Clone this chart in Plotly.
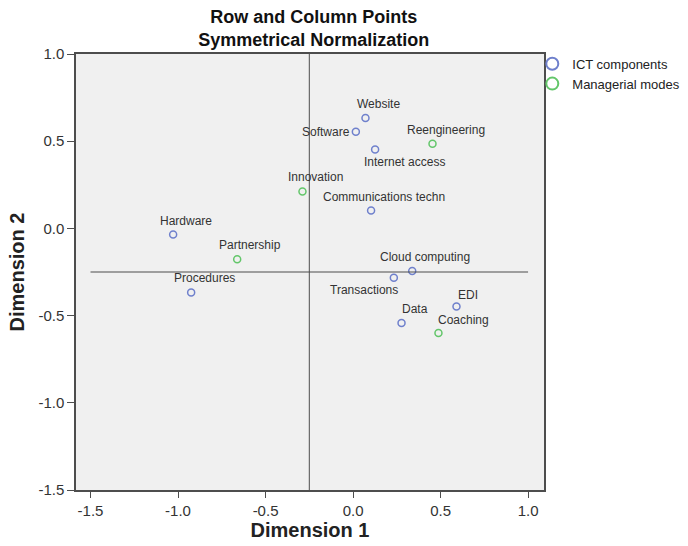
import plotly.graph_objects as go

# Correspondence analysis: row points (ICT components) and column points (managerial modes)
ict_labels = ["Website", "Software", "Internet access", "Communications techn", "Hardware",
              "Procedures", "Cloud computing", "Transactions", "EDI", "Data"]
ict_x = [0.071, 0.016, 0.126, 0.103, -1.028, -0.925, 0.338, 0.233, 0.591, 0.277]
ict_y = [0.633, 0.554, 0.452, 0.102, -0.035, -0.367, -0.244, -0.283, -0.448, -0.542]

mgr_labels = ["Reengineering", "Innovation", "Partnership", "Coaching"]
mgr_x = [0.454, -0.289, -0.662, 0.488]
mgr_y = [0.485, 0.212, -0.177, -0.600]

# shared tick positions and their printed labels (plain hyphen minus)
tick_vals = [-1.5, -1.0, -0.5, 0.0, 0.5, 1.0]
tick_text = ["-1.5", "-1.0", "-0.5", "0.0", "0.5", "1.0"]

# centroid reference lines
ref_x = -0.25
ref_y = -0.25

BLUE = "#6f80cc"
GREEN = "#63c66a"
FONT = "Liberation Sans, Arial, sans-serif"

# label offsets in pixels (dx, dy up); default is above-right of the marker
offsets = {
    "Software": (-30, 0),
    "Internet access": (29, -12),
    "Transactions": (-30, -12),
    "Coaching": (25, 13),
    "EDI": (12, 12),
}

fig = go.Figure()
fig.add_trace(go.Scatter(
    x=ict_x, y=ict_y, mode="markers", name="ICT components",
    marker=dict(symbol="circle-open", size=7, color=BLUE, line=dict(width=1.5, color=BLUE)),
))
fig.add_trace(go.Scatter(
    x=mgr_x, y=mgr_y, mode="markers", name="Managerial modes",
    marker=dict(symbol="circle-open", size=7, color=GREEN, line=dict(width=1.5, color=GREEN)),
))

annotations = []
for labels, xs, ys in [(ict_labels, ict_x, ict_y), (mgr_labels, mgr_x, mgr_y)]:
    for lab, xv, yv in zip(labels, xs, ys):
        dx, dy = offsets.get(lab, (13, 14))
        annotations.append(dict(
            x=xv, y=yv, xref="x", yref="y", text=lab, showarrow=False,
            xanchor="center", yanchor="middle", xshift=dx, yshift=dy,
            font=dict(family=FONT, size=12, color="#333333"),
        ))

fig.update_layout(
    width=688, height=546,
    margin=dict(l=76, r=144, t=54, b=56, autoexpand=False),
    paper_bgcolor="white",
    plot_bgcolor="#f0f0f0",
    font=dict(family=FONT, color="#222222"),
    title=dict(
        text="<b>Row and Column Points<br>Symmetrical Normalization</b>",
        xref="container", x=0.456, xanchor="center",
        yref="container", y=0.958, yanchor="middle",
        font=dict(size=18, color="#111111"),
    ),
    showlegend=True,
    legend=dict(
        x=0.975, y=1.012, xanchor="left", yanchor="top",
        bgcolor="rgba(0,0,0,0)", font=dict(size=13, color="#222222"),
        itemsizing="constant",
    ),
    annotations=annotations,
    shapes=[
        dict(type="line", xref="x", yref="y", x0=ref_x, x1=ref_x, y0=-1.5, y1=1.0,
             line=dict(color="#4d4d4d", width=1)),
        dict(type="line", xref="x", yref="y", x0=-1.5, x1=1.0, y0=ref_y, y1=ref_y,
             line=dict(color="#4d4d4d", width=1)),
    ],
)

fig.update_xaxes(
    range=[-1.583, 1.091], tickvals=tick_vals, ticktext=tick_text,
    showgrid=False, zeroline=False, showline=True, linecolor="#4d4d4d", linewidth=1.5,
    mirror=True, ticks="outside", ticklen=6, tickcolor="#4d4d4d",
    tickfont=dict(size=15, color="#333333"),
    title=dict(text="<b>Dimension 1</b>", font=dict(size=20, color="#222222"), standoff=4),
)
fig.update_yaxes(
    range=[-1.5, 1.0], tickvals=tick_vals, ticktext=tick_text,
    showgrid=False, zeroline=False, showline=True, linecolor="#4d4d4d", linewidth=1.5,
    mirror=True, ticks="outside", ticklen=7, tickcolor="#4d4d4d",
    tickfont=dict(size=15, color="#333333"),
    title=dict(text="<b>Dimension 2</b>", font=dict(size=20, color="#222222"), standoff=8),
)

fig.write_html("out.html")
